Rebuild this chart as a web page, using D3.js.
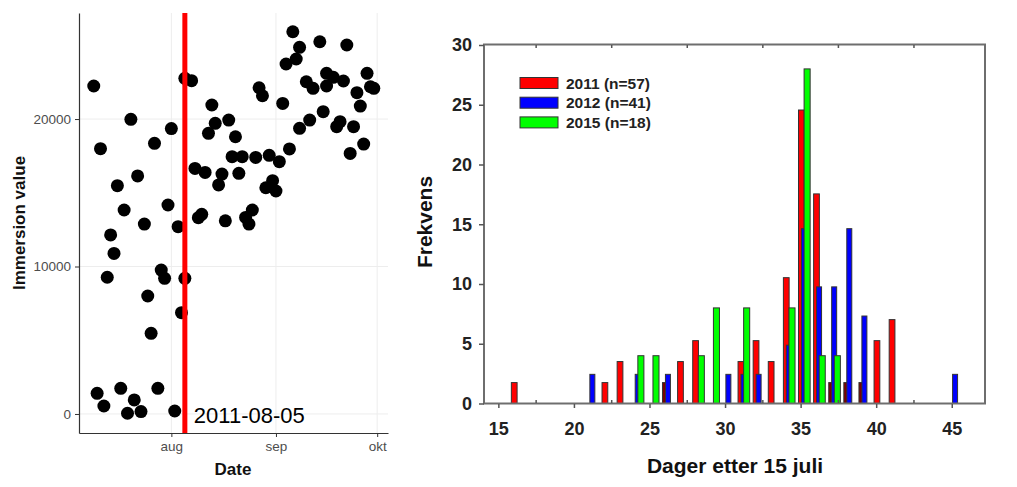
<!DOCTYPE html>
<html>
<head>
<meta charset="utf-8">
<script src="https://cdn.jsdelivr.net/npm/d3@7"></script>
<style>
  html, body { margin: 0; padding: 0; background: #fff; }
  svg { display: block; font-family: "Liberation Sans", Arial, sans-serif; }
</style>
</head>
<body>
<svg id="chart" width="1017" height="487"></svg>
<script>
// ---------- Left panel data (scatter) ----------
const scatterDates = [
  "2011-07-09","2011-07-11","2011-07-20","2011-07-22","2011-07-16","2011-07-18","2011-07-14","2011-07-27",
  "2011-08-01","2011-07-31","2011-07-24","2011-08-03","2011-08-05","2011-08-07","2011-08-08","2011-08-11",
  "2011-08-13","2011-08-14","2011-08-12","2011-08-18","2011-08-20","2011-08-16","2011-08-15","2011-08-09",
  "2011-08-10","2011-08-17","2011-08-19","2011-08-22","2011-08-21","2011-08-26","2011-08-23","2011-08-24",
  "2011-08-25","2011-08-27","2011-08-28","2011-08-30","2011-09-02","2011-08-29","2011-08-31","2011-09-01",
  "2011-09-03","2011-09-04","2011-09-05","2011-09-06","2011-09-08","2011-09-07","2011-09-08","2011-09-11",
  "2011-09-10","2011-09-12","2011-09-16","2011-09-14","2011-09-15","2011-09-16","2011-09-18","2011-09-21",
  "2011-09-19","2011-09-20","2011-09-22","2011-09-23","2011-09-24","2011-09-25","2011-09-26","2011-09-27",
  "2011-09-28","2011-09-29","2011-09-30",
  "2011-07-15","2011-07-13","2011-07-25","2011-07-26","2011-07-29","2011-07-30","2011-08-04","2011-08-05",
  "2011-07-10","2011-07-12","2011-07-17","2011-07-19","2011-07-21","2011-07-23","2011-07-28","2011-08-02"
];
const scatterValues = [
  22240,17990,19980,16140,15480,13830,12140,18350,
  19350,14170,12880,12700,22760,22600,16650,16380,
  20950,19710,19030,19930,18800,16270,15530,13310,
  13540,13100,17450,17450,16320,17400,13330,12880,
  13830,22120,21580,17540,17110,15340,15820,15120,
  21060,23730,17970,25920,24860,24070,19370,19930,
  22530,22080,22240,25240,20500,23100,22830,22580,
  19480,19820,25020,17670,19480,21790,20880,18300,
  23100,22190,22080,
  10890,9270,8000,5470,9760,9200,6870,9200,
  1400,540,1740,50,950,160,1740,200
];
const yTicksLeft = [0, 10000, 20000];
const monthTickDates = ["2011-08-01", "2011-09-01", "2011-10-01"];
const monthTickLabels = ["aug", "sep", "okt"];
const markerDate = "2011-08-05";
const markerLabel = "2011-08-05";
const leftXLabel = "Date";
const leftYLabel = "Immersion value";

// ---------- Right panel data (histogram) ----------
const seriesLabels = ["2011 (n=57)", "2012 (n=41)", "2015 (n=18)"];
const seriesColors = ["#ff0000", "#0000ff", "#00ff00"];
const days2011 = [16,22,23,26,27,28,31,32,33,34,35,36,37,38,39,40,41];
const freq2011 = [1.75,1.75,3.51,1.75,3.51,5.26,3.51,5.26,3.51,10.53,24.56,17.54,1.75,1.75,1.75,5.26,7.02];
const days2012 = [21,24,26,30,31,32,34,35,36,37,38,39,45];
const freq2012 = [2.44,2.44,2.44,2.44,2.44,2.44,4.88,14.63,9.76,9.76,14.63,7.32,2.44];
const days2015 = [24,25,28,29,31,34,35,36,37];
const freq2015 = [4,4,4,8,8,8,28,4,4];
const xTicksRight = [15,20,25,30,35,40,45];
const xMinorRight = [17.5,22.5,27.5,32.5,37.5,42.5];
const yTicksRight = [0,5,10,15,20,25,30];
const rightXLabel = "Dager etter 15 juli";
const rightYLabel = "Frekvens";

const parse = d3.timeParse("%Y-%m-%d");
const svg = d3.select("#chart");

// ================= LEFT PANEL =================
const xL = d3.scaleTime()
  .domain([new Date(2011, 6, 4, 15), new Date(2011, 9, 4, 5)])
  .range([79, 388]);
const yL = d3.scaleLinear().domain([-1290, 27190]).range([433, 13]);

const gL = svg.append("g");
// grid
gL.selectAll("line.hg").data(yTicksLeft).enter().append("line")
  .attr("x1", 79).attr("x2", 388)
  .attr("y1", d => yL(d)).attr("y2", d => yL(d))
  .attr("stroke", "#ededed").attr("stroke-width", 1);
gL.selectAll("line.vg").data(monthTickDates).enter().append("line")
  .attr("x1", d => xL(parse(d))).attr("x2", d => xL(parse(d)))
  .attr("y1", 13).attr("y2", 433)
  .attr("stroke", "#ededed").attr("stroke-width", 1);

// points
const pts = scatterDates.map((d, i) => ({ date: parse(d), v: scatterValues[i] }));
gL.selectAll("circle").data(pts).enter().append("circle")
  .attr("cx", d => xL(d.date)).attr("cy", d => yL(d.v))
  .attr("r", 6.5).attr("fill", "#000");

// marker line
gL.append("line")
  .attr("x1", xL(parse(markerDate))).attr("x2", xL(parse(markerDate)))
  .attr("y1", 13).attr("y2", 433)
  .attr("stroke", "#ff0000").attr("stroke-width", 5);
gL.append("text")
  .attr("x", xL(parse(markerDate)) + 9).attr("y", 423)
  .attr("font-size", 22).attr("fill", "#000")
  .text(markerLabel);

// axes
const axL = gL.append("g").attr("transform", "translate(79,0)")
  .call(d3.axisLeft(yL).tickValues(yTicksLeft).tickFormat(d3.format("d"))
    .tickSizeInner(4).tickSizeOuter(0).tickPadding(4));
axL.select(".domain").attr("stroke", "#333").attr("stroke-width", 1.2);
axL.selectAll(".tick line").attr("stroke", "#333");
axL.selectAll(".tick text").attr("font-size", 13.5).attr("fill", "#4d4d4d")
  .attr("font-family", "Liberation Sans, Arial, sans-serif");

const axB = gL.append("g").attr("transform", "translate(0,433)")
  .call(d3.axisBottom(xL).tickValues(monthTickDates.map(parse))
    .tickFormat((d, i) => monthTickLabels[i]).tickSizeInner(4).tickSizeOuter(0).tickPadding(4));
axB.select(".domain").attr("stroke", "#333").attr("stroke-width", 1.2);
axB.selectAll(".tick line").attr("stroke", "#333");
axB.selectAll(".tick text").attr("font-size", 13.5).attr("fill", "#4d4d4d")
  .attr("font-family", "Liberation Sans, Arial, sans-serif");

gL.append("text").attr("x", 233).attr("y", 475).attr("text-anchor", "middle")
  .attr("font-size", 17).attr("font-weight", "bold").attr("fill", "#111").text(leftXLabel);
gL.append("text").attr("transform", "translate(25,223) rotate(-90)").attr("text-anchor", "middle")
  .attr("font-size", 17).attr("font-weight", "bold").attr("fill", "#111").text(leftYLabel);

// ================= RIGHT PANEL =================
const xR = d3.scaleLinear().domain([14.05, 47.2]).range([484, 985]);
const yR = d3.scaleLinear().domain([0, 30]).range([403.5, 45]);
const gR = svg.append("g");

const unit = xR(1) - xR(0);
const series = [
  { days: days2011, vals: freq2011, color: seriesColors[0], off: 0.05, w: 0.38 },
  { days: days2012, vals: freq2012, color: seriesColors[1], off: 0.22, w: 0.33 },
  { days: days2015, vals: freq2015, color: seriesColors[2], off: 0.43, w: 0.40 }
];
const blueAt = new Map(days2012.map((d, i) => [d, freq2012[i]]));
series.forEach((s, si) => {
  const data = s.days.map((d, i) => ({ day: d, v: s.vals[i] }));
  gR.selectAll("rect.s" + si).data(data).enter().append("rect")
    .attr("x", d => xR(d.day + s.off) - s.w * unit / 2)
    .attr("width", s.w * unit)
    .attr("y", d => yR(d.v))
    .attr("height", d => yR(0) - yR(d.v))
    .attr("fill", d => (si === 0 && blueAt.has(d.day) && blueAt.get(d.day) > d.v) ? "#7a0000" : s.color)
    .attr("stroke", "#333").attr("stroke-width", 1);
});

// frame
gR.append("rect").attr("x", 484).attr("y", 44.5).attr("width", 501).attr("height", 359)
  .attr("fill", "none").attr("stroke", "#6e6e6e").attr("stroke-width", 2);

// axes
const ayR = gR.append("g").attr("transform", "translate(484,0)")
  .call(d3.axisLeft(yR).tickValues(yTicksRight).tickSizeInner(5).tickSizeOuter(0).tickPadding(7));
ayR.select(".domain").remove();
ayR.selectAll(".tick line").attr("stroke", "#555").attr("stroke-width", 1.5);
ayR.selectAll(".tick text").attr("font-size", 18).attr("font-weight", "bold").attr("fill", "#222")
  .attr("font-family", "Liberation Sans, Arial, sans-serif");

const axR = gR.append("g").attr("transform", "translate(0,404)")
  .call(d3.axisBottom(xR).tickValues(xTicksRight).tickSizeInner(4).tickSizeOuter(0).tickPadding(14));
axR.select(".domain").remove();
axR.selectAll(".tick line").attr("stroke", "#555").attr("stroke-width", 1.5);
axR.selectAll(".tick text").attr("font-size", 18).attr("font-weight", "bold").attr("fill", "#222")
  .attr("font-family", "Liberation Sans, Arial, sans-serif");

gR.selectAll("line.minb").data(xMinorRight).enter().append("line")
  .attr("x1", d => xR(d)).attr("x2", d => xR(d)).attr("y1", 403).attr("y2", 400)
  .attr("stroke", "#555").attr("stroke-width", 1.5);
gR.selectAll("line.mint").data(xMinorRight).enter().append("line")
  .attr("x1", d => xR(d)).attr("x2", d => xR(d)).attr("y1", 45).attr("y2", 48)
  .attr("stroke", "#555").attr("stroke-width", 1.5);

gR.append("text").attr("x", 735).attr("y", 473).attr("text-anchor", "middle")
  .attr("font-size", 21).attr("font-weight", "bold").attr("fill", "#111").text(rightXLabel);
gR.append("text").attr("transform", "translate(432,222) rotate(-90)").attr("text-anchor", "middle")
  .attr("font-size", 21).attr("font-weight", "bold").attr("fill", "#111").text(rightYLabel);

// legend
const lg = gR.append("g");
seriesLabels.forEach((lab, i) => {
  const yy = 77.5 + i * 19.7;
  lg.append("rect").attr("x", 520).attr("y", yy).attr("width", 38).attr("height", 11)
    .attr("fill", seriesColors[i]).attr("stroke", "#333").attr("stroke-width", 1);
  lg.append("text").attr("x", 566).attr("y", yy + 11).attr("font-size", 15.5)
    .attr("font-weight", "bold").attr("fill", "#222").text(lab);
});
</script>
</body>
</html>
